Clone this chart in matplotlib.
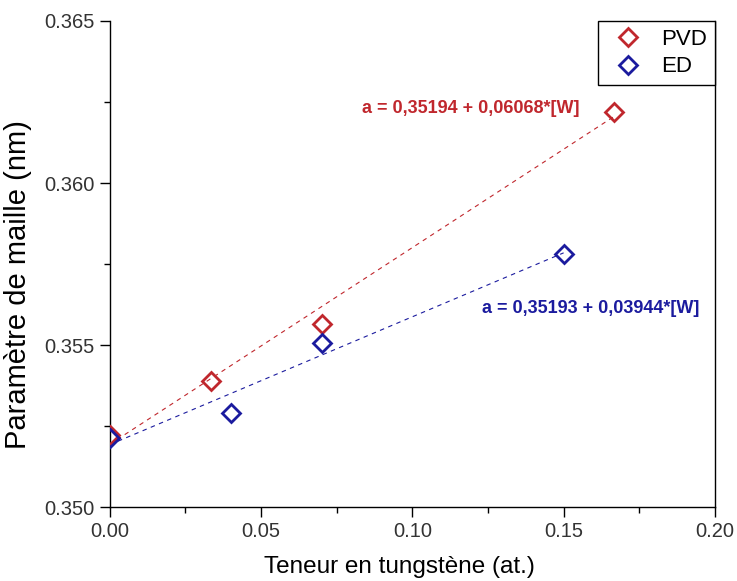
import matplotlib
matplotlib.use("Agg")
import matplotlib.pyplot as plt
from matplotlib.ticker import MultipleLocator, FormatStrFormatter
import numpy as np

# values
w_pvd = [0.0, 0.0333, 0.07, 0.1667]
a_pvd = [0.35222, 0.35390, 0.35565, 0.36219]
w_ed = [0.0, 0.04, 0.07, 0.15]
a_ed = [0.35213, 0.35290, 0.35506, 0.35781]

# linear fits as printed on the chart: a = a0 + k*[W]
fit_pvd = (0.35194, 0.06068)
fit_ed = (0.35193, 0.03944)

red = '#C0272D'
blue = '#1B1B9E'

plt.rcParams['font.family'] = ['Liberation Sans', 'DejaVu Sans']


def make_plot():
    fig = plt.figure(figsize=(7.37, 5.81), dpi=100)
    ax = fig.add_axes([0.149, 0.127, 0.821, 0.837])

    # dashed fit lines, spanning each series
    for ws, (a0, k), c in [(w_pvd, fit_pvd, red), (w_ed, fit_ed, blue)]:
        xs = np.array([min(ws), max(ws)])
        ax.plot(xs, a0 + k * xs, ls=(0, (4, 4)), lw=0.8, color=c, zorder=2)

    ax.plot(w_pvd, a_pvd, 'D', ms=9, mfc='none', mec=red, mew=2,
            label='PVD', zorder=3)
    ax.plot(w_ed, a_ed, 'D', ms=9, mfc='none', mec=blue, mew=2,
            label='ED', zorder=4)

    ax.text(0.1193, 0.36231, 'a = 0,35194 + 0,06068*[W]', color=red,
            fontsize=13, fontweight='bold', ha='center', va='center')
    ax.text(0.159, 0.35614, 'a = 0,35193 + 0,03944*[W]', color=blue,
            fontsize=13, fontweight='bold', ha='center', va='center')

    ax.set_xlim(0, 0.20)
    ax.set_ylim(0.350, 0.365)
    ax.xaxis.set_major_locator(MultipleLocator(0.05))
    ax.xaxis.set_minor_locator(MultipleLocator(0.025))
    ax.yaxis.set_major_locator(MultipleLocator(0.005))
    ax.yaxis.set_minor_locator(MultipleLocator(0.0025))
    ax.xaxis.set_major_formatter(FormatStrFormatter('%.2f'))
    ax.yaxis.set_major_formatter(FormatStrFormatter('%.3f'))

    ax.spines['top'].set_visible(False)
    for s in ax.spines.values():
        s.set_linewidth(1.0)
    ax.tick_params(which='both', direction='out', top=False, right=False,
                   width=1.0, labelsize=14.5, colors='black')
    ax.tick_params(which='major', length=7, pad=4)
    ax.tick_params(which='minor', length=4)
    for lab in ax.get_xticklabels() + ax.get_yticklabels():
        lab.set_color('#333333')

    ax.set_xlabel('Teneur en tungstène (at.)', fontsize=17.5)
    ax.xaxis.set_label_coords(0.478, -0.1)
    ax.set_ylabel('Paramètre de maille (nm)', fontsize=21)
    ax.yaxis.set_label_coords(-0.128, 0.458)

    leg = ax.legend(loc='upper right', bbox_to_anchor=(1.0, 1.0),
                    borderaxespad=0, fontsize=16, fancybox=False,
                    edgecolor='black', framealpha=1, handletextpad=0.5,
                    labelspacing=0.3, handlelength=2.0, borderpad=0.35)
    leg.get_frame().set_linewidth(1.0)

    fig.savefig('out.png', dpi=100)


if __name__ == "__main__":
    make_plot()
